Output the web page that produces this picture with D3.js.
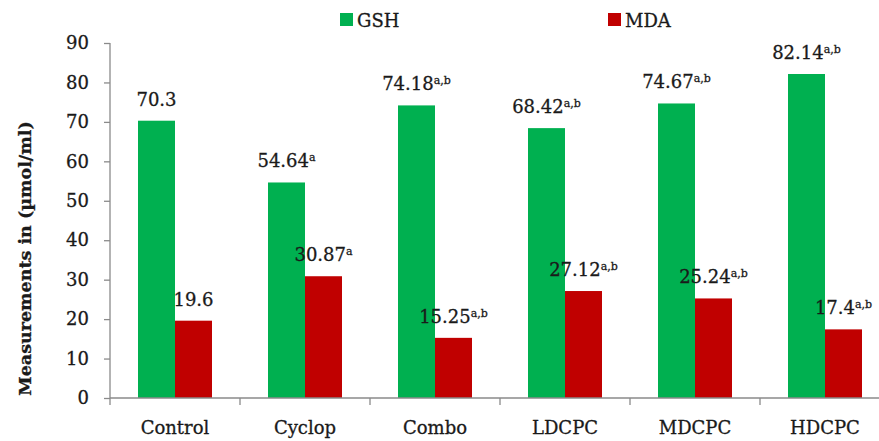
<!DOCTYPE html>
<html>
<head>
<meta charset="utf-8">
<script src="https://cdn.jsdelivr.net/npm/d3@7"></script>
<style>
  html, body { margin: 0; padding: 0; background: #fff; }
  svg { display: block; }
  text { font-family: "DejaVu Serif", serif; fill: #1a1a1a; stroke: #1a1a1a; stroke-width: 0.3px; }
</style>
</head>
<body>
<svg id="chart" width="879" height="441"></svg>
<script>
const categories = ["Control", "Cyclop", "Combo", "LDCPC", "MDCPC", "HDCPC"];
const seriesNames = ["GSH", "MDA"];
const gshValues = [70.3, 54.64, 74.18, 68.42, 74.67, 82.14];
const mdaValues = [19.6, 30.87, 15.25, 27.12, 25.24, 17.4];
const gshSup = ["", "a", "a,b", "a,b", "a,b", "a,b"];
const mdaSup = ["", "a", "a,b", "a,b", "a,b", "a,b"];
const yTicks = [0, 10, 20, 30, 40, 50, 60, 70, 80, 90];
const colors = ["#00B050", "#C00000"];
const yTitle = "Measurements in (µmol/ml)";

(function () {
const svg = d3.select("#chart");
const W = 879, H = 441;
const mLeft = 110, mRight = 890, mTop = 43, mBottom = 398;

const x = d3.scaleBand().domain(categories).range([mLeft, mRight]).paddingInner(0).paddingOuter(0);
const inner = d3.scaleBand().domain(seriesNames).range([0, x.bandwidth()]).paddingInner(0).paddingOuter(0.757);
const y = d3.scaleLinear().domain([0, 90]).range([mBottom, mTop]);

const data = categories.map((c, i) => ({
  cat: c,
  vals: [
    { s: "GSH", v: gshValues[i], sup: gshSup[i], color: colors[0] },
    { s: "MDA", v: mdaValues[i], sup: mdaSup[i], color: colors[1] }
  ]
}));

// bars
const groups = svg.append("g").selectAll("g").data(data).join("g")
  .attr("transform", d => `translate(${x(d.cat)},0)`);
groups.selectAll("rect").data(d => d.vals).join("rect")
  .attr("x", d => inner(d.s))
  .attr("width", inner.bandwidth())
  .attr("y", d => y(d.v))
  .attr("height", d => y(0) - y(d.v))
  .attr("fill", d => d.color);

// value labels
groups.selectAll("text.val").data(d => d.vals).join("text")
  .attr("class", "val")
  .attr("x", d => inner(d.s) + inner.bandwidth() / 2)
  .attr("y", d => y(d.v) - 15)
  .attr("text-anchor", "middle")
  .style("font-size", "18px")
  .each(function(d) {
    const t = d3.select(this);
    t.append("tspan").text(d.v);
    if (d.sup) {
      t.append("tspan").attr("dy", -6).style("font-size", "11px").text(d.sup);
    }
  });

// axes
const axisColor = "#8a8a8a";
const yAxis = svg.append("g").attr("transform", `translate(${mLeft},0)`)
  .call(d3.axisLeft(y).tickValues(yTicks).tickSize(6).tickPadding(15));
yAxis.select(".domain").remove();
yAxis.selectAll(".tick line").attr("stroke", axisColor).attr("stroke-width", 1.3);
yAxis.selectAll(".tick text").style("font-size", "18px").style("font-family", "DejaVu Serif, serif");
yAxis.append("line").attr("x1", 0).attr("x2", 0).attr("y1", y(90)).attr("y2", y(0))
  .attr("stroke", axisColor).attr("stroke-width", 1.3);

// x axis
const xg = svg.append("g");
xg.append("line").attr("x1", mLeft).attr("x2", W).attr("y1", y(0)).attr("y2", y(0))
  .attr("stroke", axisColor).attr("stroke-width", 1.3);
const boundaries = categories.map(c => x(c));
xg.selectAll("line.tk").data(boundaries).join("line").attr("class", "tk")
  .attr("x1", d => d).attr("x2", d => d).attr("y1", y(0)).attr("y2", y(0) + 7)
  .attr("stroke", axisColor).attr("stroke-width", 1.3);
xg.selectAll("text.cat").data(categories).join("text").attr("class", "cat")
  .attr("x", d => x(d) + x.bandwidth() / 2)
  .attr("y", y(0) + 36)
  .attr("text-anchor", "middle")
  .style("font-size", "18px")
  .text(d => d);

// y title
svg.append("text")
  .attr("transform", `translate(31,${(115 + 402) / 2}) rotate(-90)`)
  .attr("text-anchor", "middle")
  .style("font-size", "17.5px")
  .style("font-weight", "bold")
  .text(yTitle);

// legend
const legX = [340, 608];
const leg = svg.append("g").selectAll("g").data(seriesNames).join("g")
  .attr("transform", (d, i) => `translate(${legX[i]},13)`);
leg.append("rect").attr("width", 13).attr("height", 13).attr("fill", (d, i) => colors[i]);
leg.append("text").attr("x", 17).attr("y", 14).style("font-size", "18px").text(d => d);
})();
</script>
</body>
</html>
